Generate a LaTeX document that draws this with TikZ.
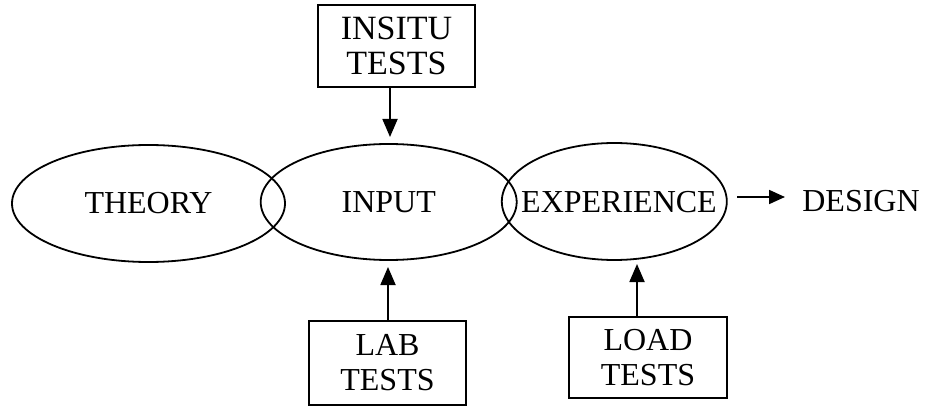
\documentclass[tikz,border=0pt]{standalone}
\usepackage{fontspec}
\setmainfont{Liberation Serif}
\usetikzlibrary{shapes.geometric,arrows.meta}
\tikzset{
  lbl/.style={font=\fontsize{16pt}{17.5pt}\selectfont, align=center, inner sep=0pt},
  oval/.style={draw, ellipse, inner sep=0pt, line width=0.9pt},
  testbox/.style={lbl, draw, rectangle, line width=0.9pt},
  arr/.style={line width=0.9pt, -{Triangle[length=9pt,width=7.5pt]}},
  arrs/.style={line width=0.9pt, -{Triangle[length=8pt,width=7pt]}}
}
\begin{document}
\begin{tikzpicture}[x=0.5pt,y=-0.5pt]
\useasboundingbox (0,0) rectangle (925,406);
\node[oval, minimum width=136.5pt, minimum height=58.5pt] (theory) at (148.5,203.5) {};
\node[oval, minimum width=128pt, minimum height=58pt] (input) at (388.7,202) {};
\node[oval, minimum width=112.5pt, minimum height=58.5pt] (exp) at (614.3,201.5) {};
\node[lbl] (theoryT) at (148.5,203) {THEORY};
\node[lbl] (inputT) at (388.7,202) {INPUT};
\node[lbl] (expT) at (619,202) {EXPERIENCE};
\node[lbl] (design) at (861,201) {DESIGN};
\node[testbox, minimum width=78.5pt, minimum height=41pt, font=\fontsize{17pt}{17.5pt}\selectfont] (insitu) at (396.5,46) {INSITU\\TESTS};
\node[testbox, minimum width=78.5pt, minimum height=42pt] (lab) at (387.5,363) {LAB\\TESTS};
\node[testbox, minimum width=79pt, minimum height=40.5pt] (load) at (648,357.5) {LOAD\\TESTS};
\coordinate (insituS) at (390,87);
\coordinate (insituT) at (390,137);
\coordinate (labN) at (388,321);
\coordinate (labT) at (388,267);
\coordinate (loadN) at (637,317);
\coordinate (loadT) at (637,264);
\coordinate (expE) at (737,197);
\coordinate (desW) at (785,197);
\draw[arr] (insituS) -- (insituT);
\draw[arr] (labN) -- (labT);
\draw[arr] (loadN) -- (loadT);
\draw[arrs] (expE) -- (desW);
\end{tikzpicture}
\end{document}
